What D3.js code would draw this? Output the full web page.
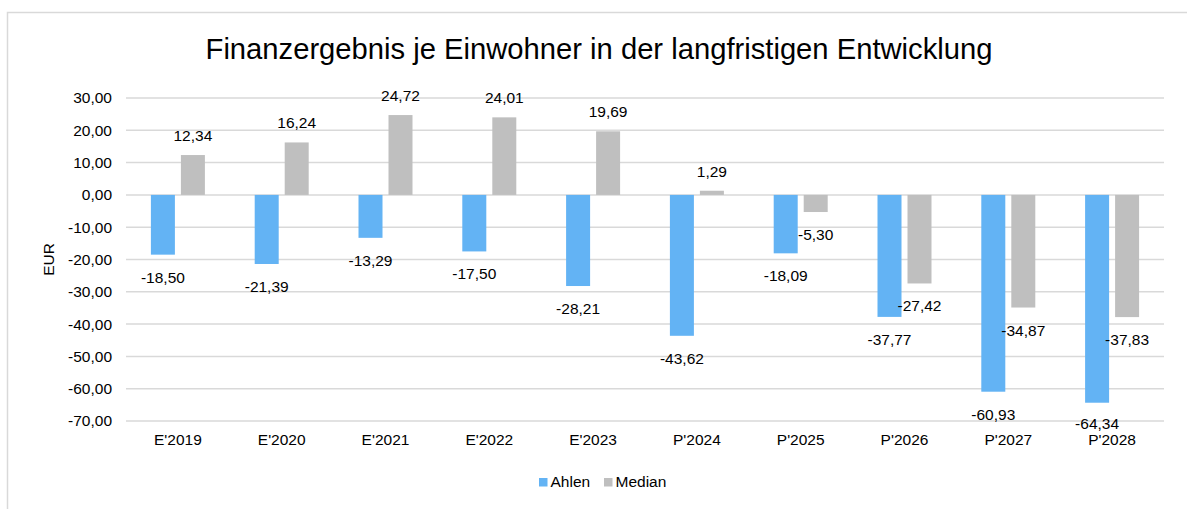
<!DOCTYPE html>
<html>
<head>
<meta charset="utf-8">
<script src="https://cdn.jsdelivr.net/npm/d3@7"></script>
<style>
  html, body { margin: 0; padding: 0; background: #fff; }
  svg { display: block; font-family: "Liberation Sans", Arial, sans-serif; }
</style>
</head>
<body>
<svg id="chart" width="1187" height="509"></svg>
<script>
const categories = ["E'2019", "E'2020", "E'2021", "E'2022", "E'2023", "P'2024", "P'2025", "P'2026", "P'2027", "P'2028"];
const seriesNames = ["Ahlen", "Median"];
const ahlen = [-18.50, -21.39, -13.29, -17.50, -28.21, -43.62, -18.09, -37.77, -60.93, -64.34];
const median = [12.34, 16.24, 24.72, 24.01, 19.69, 1.29, -5.30, -27.42, -34.87, -37.83];
const yTicks = [30, 20, 10, 0, -10, -20, -30, -40, -50, -60, -70];
const colors = ["#63B3F4", "#BFBFBF"];
const title = "Finanzergebnis je Einwohner in der langfristigen Entwicklung";
const yAxisTitle = "EUR";

const svg = d3.select("#chart");
const W = 1187, H = 509;
const plot = { left: 126, right: 1164, top: 98, bottom: 421 };
const fmt = v => d3.format(".2f")(v).replace(".", ",").replace("\u2212", "-");

// chart frame
svg.append("path")
  .attr("d", `M7.5,${H} L7.5,12.5 L${W},12.5`)
  .attr("fill", "none").attr("stroke", "#D9D9D9").attr("stroke-width", 1.5);

const x0 = d3.scaleBand().domain(categories).range([plot.left, plot.right]).padding(0);
const x1 = d3.scaleBand().domain(seriesNames).range([0, 54]).paddingInner(0.2);
const y = d3.scaleLinear().domain([-70, 30]).range([plot.bottom, plot.top]);

// gridlines
svg.append("g").selectAll("line").data(yTicks).join("line")
  .attr("x1", plot.left).attr("x2", plot.right)
  .attr("y1", d => y(d)).attr("y2", d => y(d))
  .attr("stroke", "#D9D9D9").attr("stroke-width", 1.5);

// y tick labels
svg.append("g").selectAll("text").data(yTicks).join("text")
  .attr("x", 112).attr("y", d => y(d)).attr("dy", "0.35em")
  .attr("text-anchor", "end").attr("font-size", "15.5px").attr("fill", "#000")
  .text(d => fmt(d));

// x labels
svg.append("g").selectAll("text").data(categories).join("text")
  .attr("x", d => x0(d) + x0.bandwidth() / 2).attr("y", 445)
  .attr("text-anchor", "middle").attr("font-size", "15.5px").attr("fill", "#000")
  .text(d => d);

// bars
const data = [ahlen, median];
const groupOff = (x0.bandwidth() - 54) / 2;
seriesNames.forEach((s, si) => {
  const g = svg.append("g");
  g.selectAll("rect").data(data[si]).join("rect")
    .attr("x", (d, i) => x0(categories[i]) + groupOff + x1(s))
    .attr("width", x1.bandwidth())
    .attr("y", d => y(Math.max(0, d)))
    .attr("height", d => Math.abs(y(d) - y(0)))
    .attr("fill", colors[si]);
  g.selectAll("text").data(data[si]).join("text")
    .attr("x", (d, i) => x0(categories[i]) + groupOff + x1(s) + x1.bandwidth() / 2)
    .attr("y", d => d >= 0 ? y(d) - 14 : Math.min(y(d) + 28, 429))
    .attr("text-anchor", "middle").attr("font-size", "15.5px").attr("fill", "#000")
    .text(d => fmt(d));
});

// title
svg.append("text").attr("x", 599).attr("y", 59)
  .attr("text-anchor", "middle").attr("font-size", "29.2px").attr("fill", "#000")
  .text(title);

// y axis title
svg.append("text")
  .attr("transform", `translate(54,${(plot.top + plot.bottom) / 2}) rotate(-90)`)
  .attr("text-anchor", "middle").attr("font-size", "15.5px").attr("fill", "#000")
  .text(yAxisTitle);

// legend
const legend = svg.append("g");
const legendItems = [{ name: "Ahlen", x: 539 }, { name: "Median", x: 604 }];
legendItems.forEach((it, i) => {
  legend.append("rect").attr("x", it.x).attr("y", 478).attr("width", 8.5).attr("height", 8.5).attr("fill", colors[i]);
  legend.append("text").attr("x", it.x + 11.5).attr("y", 482).attr("dy", "0.35em")
    .attr("font-size", "15.5px").attr("fill", "#000").text(it.name);
});
</script>
</body>
</html>
